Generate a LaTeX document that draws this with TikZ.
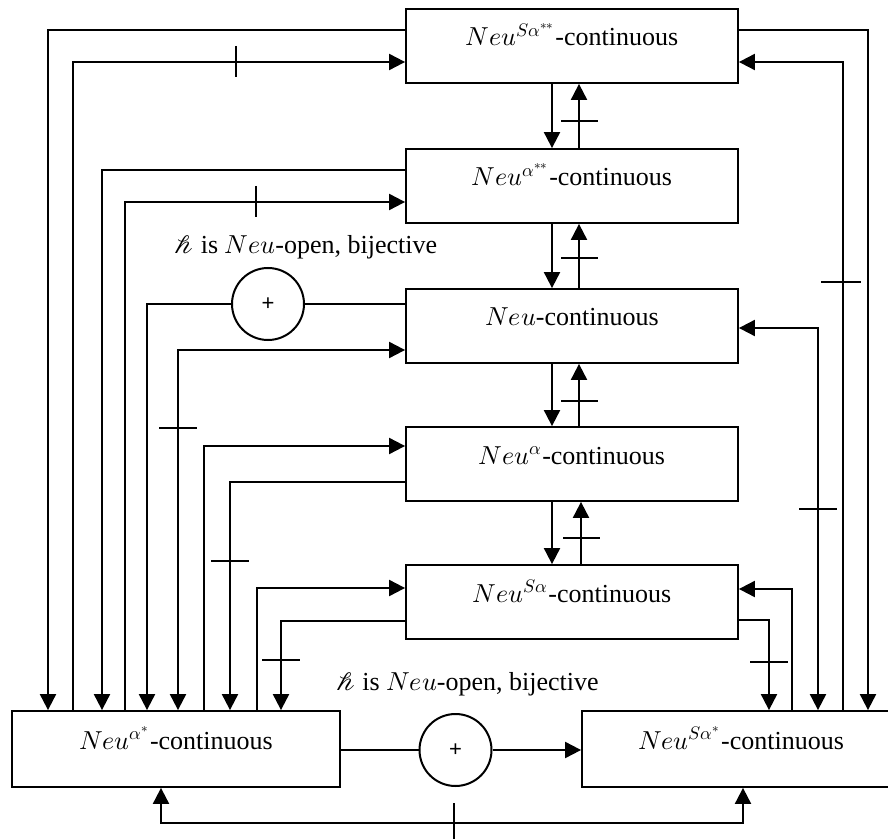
\documentclass[tikz,border=0pt]{standalone}
\usepackage{fontspec}
\usepackage{unicode-math}
\setmainfont{Liberation Serif}
\setmathfont{Latin Modern Math}
% script letters taken from the first math font found that carries lowercase script
\newif\ifscrfound
\newcommand\tryscriptfont[1]{%
  \ifscrfound\else
    \IfFontExistsTF{#1}{\setmathfont{#1}[range={\mathscr}]\scrfoundtrue}{}%
  \fi}
\tryscriptfont{XITS Math}
\tryscriptfont{Libertinus Math}
\tryscriptfont{TeX Gyre Pagella Math}
\tryscriptfont{TeX Gyre Termes Math}
\tryscriptfont{Asana Math}
\tryscriptfont{STIX Two Math}
\newfontfamily\plusfont{Liberation Sans}
\usetikzlibrary{arrows.meta,calc}

\begin{document}
\begin{tikzpicture}[x=0.5pt,y=-0.5pt,
  font=\fontsize{13}{15}\selectfont,
  box/.style={draw,line width=0.9pt,inner sep=0pt,minimum width=166pt,
    minimum height=37pt,text height=5pt,text depth=5pt},
  conn/.style={line width=1pt},
  arr/.style={conn,-{Triangle[length=8pt,width=8pt]}},
  darr/.style={conn,{Triangle[length=8pt,width=8pt]}-{Triangle[length=8pt,width=8pt]}},
  tick/.style={line width=0.9pt},
  sumnode/.style={draw,circle,line width=1pt,minimum size=36pt,inner sep=0pt,
    font=\plusfont\fontsize{11}{11}\selectfont},
  lbl/.style={anchor=base,inner sep=0pt}]

\useasboundingbox (0,0) rectangle (888,839);
\clip (0,0) rectangle (888,839);

% middle column of boxes
\node[box] (b1) at (572,46) {$Neu^{S\alpha^{**}}$-continuous};
\node[box] (b2) at (572,186) {$Neu^{\alpha^{**}}$-continuous};
\node[box] (b3) at (572,326) {$Neu$-continuous};
\node[box] (b4) at (572,464) {$Neu^{\alpha}$-continuous};
\node[box] (b5) at (572,602) {$Neu^{S\alpha}$-continuous};

% bottom row
\node[box,minimum width=164pt,minimum height=38pt] (bl) at (176,749) {$Neu^{\alpha^{*}}$-continuous};
\node[box,minimum width=159pt,minimum height=38pt] (br) at (741,749) {$Neu^{S\alpha^{*}}$-continuous};

% sum junctions
\node[sumnode] (c1) at (268,304) {+};
\node[sumnode] (c2) at (455.5,750) {+};

% labels
\node[lbl] (lab1) at (306,254) {$\mathscr{h}$ is $Neu$-open, bijective};
\node[lbl] (lab2) at (467.5,690) {$\mathscr{h}$ is $Neu$-open, bijective};

% vertical links between neighbouring boxes
\foreach \u/\l/\x in {b1/b2/579,b2/b3/579,b3/b4/579,b4/b5/581}{
  \draw[arr] (\u.south -| 552,0) -- (\l.north -| 552,0);
  \draw[arr] (\l.north -| \x,0) -- (\u.south -| \x,0);
}
\draw[tick] (561,121) -- (598,121);
\draw[tick] (561,258) -- (598,258);
\draw[tick] (561,401) -- (598,401);
\draw[tick] (563,538) -- (600,538);

% left-hand links
\draw[arr] (b1.west |- 0,30) -| (bl.north -| 48,0);
\draw[arr] (bl.north -| 73,0) |- (b1.west |- 0,62);
\draw[tick] (236,46) -- (236,77);
\draw[arr] (b2.west |- 0,170) -| (bl.north -| 102,0);
\draw[arr] (bl.north -| 125,0) |- (b2.west |- 0,202);
\draw[tick] (256,186) -- (256,217);
\draw[conn] (b3.west |- c1) -- (c1.east);
\draw[arr] (c1.west) -| (bl.north -| 147,0);
\draw[darr] (b3.west |- 0,350) -| (bl.north -| 178,0);
\draw[tick] (159,428) -- (197,428);
\draw[arr] (bl.north -| 204,0) |- (b4.west |- 0,446);
\draw[arr] (b4.west |- 0,482) -| (bl.north -| 230,0);
\draw[tick] (211,561) -- (249,561);
\draw[arr] (bl.north -| 257,0) |- (b5.west |- 0,588);
\draw[arr] (b5.west |- 0,621) -| (bl.north -| 281,0);
\draw[tick] (262,660) -- (300,660);

% right-hand links
\draw[arr] (b5.east |- 0,620) -| (br.north -| 769,0);
\draw[tick] (750,662) -- (788,662);
\draw[arr] (br.north -| 792,0) |- (b5.east |- 0,589);
\draw[darr] (b3.east |- 0,328) -| (br.north -| 818,0);
\draw[tick] (799,509) -- (837,509);
\draw[arr] (br.north -| 843,0) |- (b1.east |- 0,62);
\draw[tick] (821,282) -- (861,282);
\draw[arr] (b1.east |- 0,30) -| (br.north -| 868,0);

% bottom links
\draw[conn] (bl.east |- c2) -- (c2.west);
\draw[arr] (c2.east) -- (br.west |- c2);
\draw[darr] (bl.south -| 161,0) |- (455,823) -| (br.south -| 743,0);
\draw[tick] (454,803) -- (454,845);
\end{tikzpicture}
\end{document}
